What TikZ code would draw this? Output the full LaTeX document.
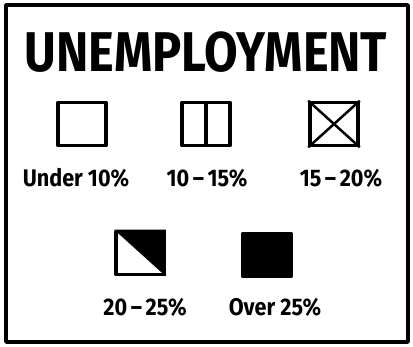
\documentclass[tikz,border=0pt]{standalone}
\usepackage{fontspec}
\setmainfont{Fira Sans}
\usetikzlibrary{positioning}

\begin{document}
\begin{tikzpicture}[
  x=1pt, y=-1pt, line width=3.5pt, line join=round,
  key/.style={draw, minimum width=48pt, minimum height=43pt, inner sep=0pt},
  keylabel/.style={font=\fontsize{24}{24}\selectfont\bfseries, inner sep=0pt},
]
\useasboundingbox (0,0) rectangle (413,347);
\draw (6,5) rectangle (408,342);
\node[font=\fontsize{56}{56}\selectfont\bfseries] (title) at (206,52)
  {\scalebox{0.87}[1]{UNEMPLOYMENT}};
% first row
\node[key] (under10) at (82,124) {};
\node[key] (r10to15) at (206,124) {};
\node[key] (r15to20) at (334,124) {};
\draw (r10to15.north) -- (r10to15.south);
\draw[line width=2.5pt] (r15to20.north west) -- (r15to20.south east)
  (r15to20.north east) -- (r15to20.south west);
\node[keylabel] (lunder10) at (76,178) {\scalebox{0.9}[1]{Under 10\%}};
\node[keylabel] (l10to15) at (207,178) {\scalebox{0.9}[1]{10\,--\,15\%}};
\node[keylabel] (l15to20) at (341,178) {\scalebox{0.9}[1]{15\,--\,20\%}};
% second row
\node[key] (r20to25) at (140,253) {};
\fill (r20to25.north west) -- (r20to25.north east) -- (r20to25.south east) -- cycle;
\node[key, fill] (over25) at (267,255) {};
\node[keylabel] (l20to25) at (145,307) {\scalebox{0.9}[1]{20\,--\,25\%}};
\node[keylabel] (lover25) at (275,307) {\scalebox{0.9}[1]{Over 25\%}};
\end{tikzpicture}
\end{document}
